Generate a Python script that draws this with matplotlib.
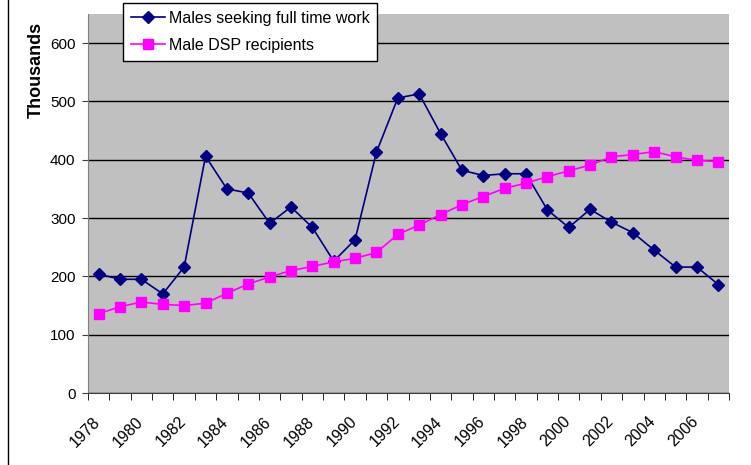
import numpy as np
import matplotlib
matplotlib.use('Agg')
import matplotlib.pyplot as plt
import matplotlib.transforms as mtransforms
from matplotlib.lines import Line2D

plt.rcParams['font.family'] = ['Liberation Sans', 'DejaVu Sans']

# data (thousands)
years = list(range(1978, 2008))
males_seeking = [204, 195, 195, 170, 216, 406, 350, 343, 291, 319,
                 284, 226, 263, 413, 506, 513, 445, 382, 373, 376,
                 376, 314, 284, 315, 293, 275, 245, 216, 216, 186]
male_dsp = [136, 148, 156, 152, 150, 154, 171, 187, 199, 210,
            217, 225, 231, 241, 272, 288, 306, 323, 337, 351,
            360, 371, 381, 391, 405, 409, 414, 405, 399, 397]
tick_years = years[::2]

W, H = 751, 465
fig = plt.figure(figsize=(W/100, H/100), dpi=100)
ax = fig.add_axes([88/W, (H-393)/H, 641/W, 379/H])
ax.set_facecolor('#C0C0C0')

x = np.arange(len(years))
ax.plot(x, males_seeking, color='#000080', marker='D', markersize=6, lw=1.2,
        label='Males seeking full time work', zorder=3)
ax.plot(x, male_dsp, color='#FF00FF', marker='s', markersize=7, lw=1.2,
        label='Male DSP recipients', zorder=3)

ax.set_xlim(-0.5, len(years)-0.5)
ax.set_ylim(0, 650)
ax.set_yticks(range(0, 601, 100))
ax.yaxis.grid(True, color='black', lw=1)
ax.set_axisbelow(True)
ax.tick_params(axis='y', direction='out', length=4, labelsize=11, pad=5, color='#404040')

# category axis: ticks on boundaries, labels every other year
ax.set_xticks(np.arange(-0.5, len(years), 1), minor=True)
ax.set_xticks([years.index(y) for y in tick_years])
ax.set_xticklabels([str(y) for y in tick_years], rotation=45, ha='right',
                   rotation_mode='anchor', fontsize=11.5)
ax.tick_params(axis='x', which='major', length=0, pad=15)
ax.tick_params(axis='x', which='minor', direction='out', length=5, color='black')
shift = mtransforms.ScaledTranslation(-6/100, 0, fig.dpi_scale_trans)
for lab in ax.get_xticklabels():
    lab.set_transform(lab.get_transform() + shift)

for s in ['top', 'right']:
    ax.spines[s].set_visible(False)
ax.spines['left'].set_color('#808080')
ax.spines['bottom'].set_color('#404040')

fig.text(36/W, 1-70/H, 'Thousands', rotation=90, ha='center', va='center',
         fontsize=13, fontweight='bold')

leg = fig.legend(loc='upper left', bbox_to_anchor=(123/W, 1-3/H), fontsize=11.5,
                 frameon=True, fancybox=False, framealpha=1, edgecolor='black',
                 borderpad=0.5, handlelength=2.1, labelspacing=0.75, handletextpad=0.25,
                 borderaxespad=0)
leg.get_frame().set_linewidth(1)

fig.add_artist(Line2D([8/W, 8/W], [0, 1], color='black', lw=1))

fig.savefig('out.png', dpi=100, facecolor='white')
